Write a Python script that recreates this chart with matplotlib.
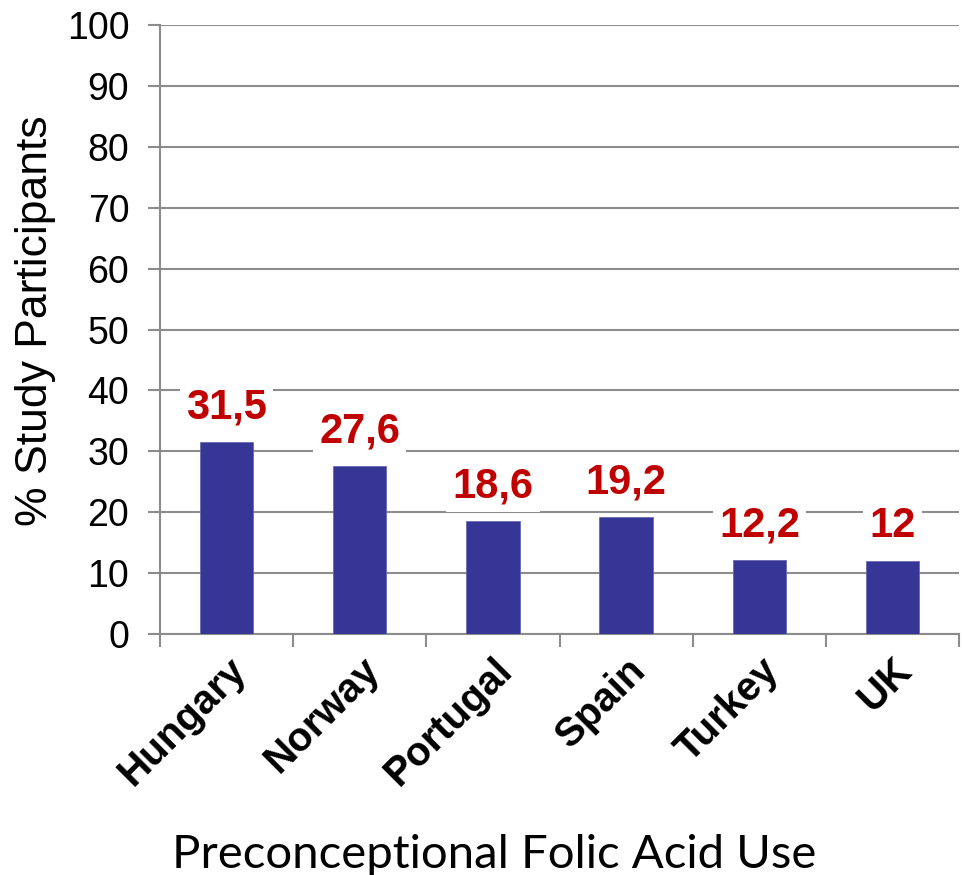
import matplotlib
matplotlib.use("Agg")
import matplotlib.pyplot as plt
import numpy as np

countries = ["Hungary", "Norway", "Portugal", "Spain", "Turkey", "UK"]
folic_use = [31.5, 27.6, 18.6, 19.2, 12.2, 12]
value_labels = ["31,5", "27,6", "18,6", "19,2", "12,2", "12"]
y_ticks = [0, 10, 20, 30, 40, 50, 60, 70, 80, 90, 100]

plt.rcParams["font.family"] = ["Liberation Sans", "DejaVu Sans"]

fig = plt.figure(figsize=(9.63, 8.75), dpi=100)
ax = fig.add_axes([0.166, 0.2754, 0.830, 0.6960])

grid_color = "#8c8c8c"
bar_color = "#363696"
label_color = "#c00000"

x = np.arange(len(countries))
ax.bar(x, folic_use, width=0.4, color=bar_color, edgecolor="#6a6ab0",
       linewidth=0.6, zorder=3)

for xi, v, s in zip(x, folic_use, value_labels):
    ax.annotate(s, xy=(xi, v), xytext=(0, 25), textcoords="offset points",
                ha="center", va="center", fontsize=30, fontweight="bold",
                color=label_color, zorder=4,
                bbox=dict(boxstyle="square,pad=0.15", fc="white", ec="none"))

ax.set_xlim(-0.5, len(countries) - 0.5)
ax.set_ylim(0, 100)
ax.set_yticks(y_ticks)
ax.set_yticklabels([str(t) for t in y_ticks], fontsize=27)
ax.yaxis.grid(True, color=grid_color, linewidth=1.5, zorder=0)
ax.set_axisbelow(True)

# category ticks sit between the bars; names are centred under each bar
ax.set_xticks(np.arange(len(countries) + 1) - 0.5)
ax.set_xticklabels([])
ax.set_xticks(x, minor=True)
ax.set_xticklabels(countries, minor=True, rotation=45, ha="right",
                   rotation_mode="anchor", fontsize=29, fontweight="bold")
ax.tick_params(axis="x", which="minor", length=0, pad=12)
ax.tick_params(axis="x", which="major", length=9, width=1.5, color=grid_color)
ax.tick_params(axis="y", length=9, width=1.5, color=grid_color, pad=13)

for side in ("top", "right"):
    ax.spines[side].set_visible(False)
for side in ("left", "bottom"):
    ax.spines[side].set_color(grid_color)
    ax.spines[side].set_linewidth(1.5)

fig.text(0.037, 0.634, "% Study Participants", rotation=90, ha="center",
         va="center", fontsize=32)
fig.text(0.513, 0.023, "Preconceptional Folic Acid Use", ha="center",
         va="center", fontsize=34, family=["Lato", "DejaVu Sans"])

fig.savefig("out.png", dpi=100, facecolor="white")
